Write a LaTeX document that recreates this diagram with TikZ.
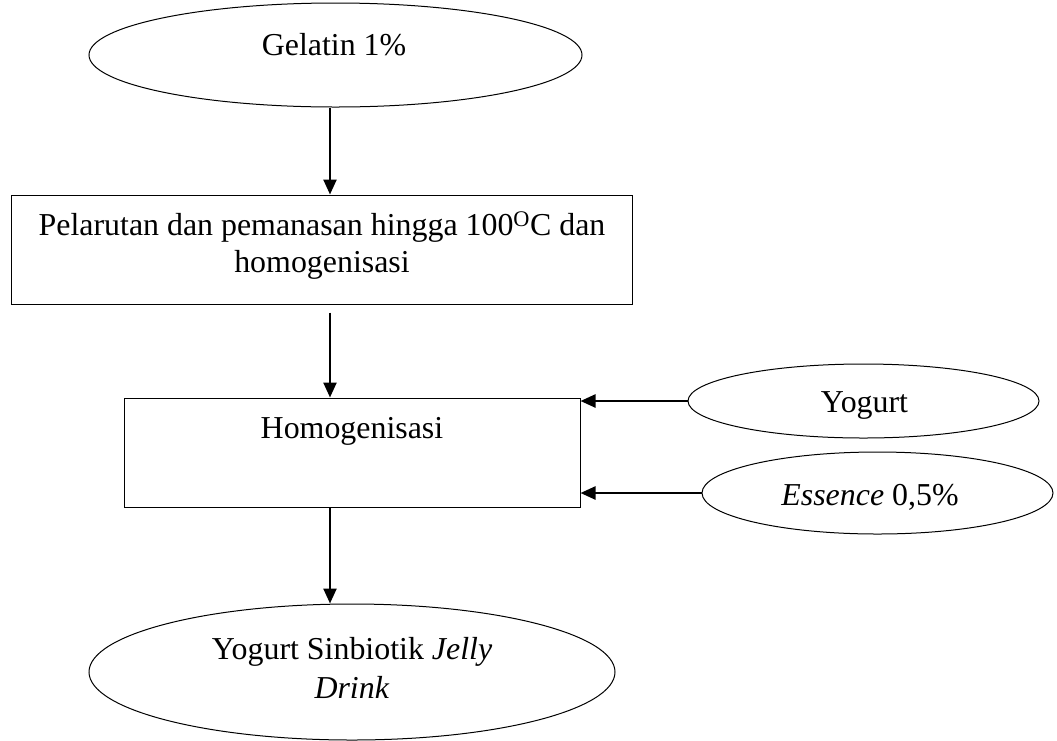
\documentclass[tikz,border=0pt]{standalone}
\usepackage{fontspec}
\setmainfont{Liberation Serif}
\usetikzlibrary{shapes.geometric,arrows.meta}
\tikzset{
  oval/.style={draw, line width=1pt, ellipse, inner sep=0pt},
  box/.style={draw, line width=1pt, rectangle, inner sep=0pt},
  lbl/.style={inner sep=0pt, anchor=base, font=\fontsize{31.9}{36.5}\selectfont, align=center},
  arr/.style={line width=2.4pt, -{Triangle[width=13pt,length=15pt]}}
}
\begin{document}
\begin{tikzpicture}[x=1pt,y=-1pt]
\useasboundingbox (0,0) rectangle (1057,740);
% shapes
\node[oval, minimum width=493pt, minimum height=104pt] (gel) at (335.5,55) {};
\node[box, minimum width=621pt, minimum height=109pt] (p1) at (321.5,249.5) {};
\node[box, minimum width=456pt, minimum height=109pt] (h) at (352,452.5) {};
\node[oval, minimum width=351pt, minimum height=74pt] (yog) at (863.5,401) {};
\node[oval, minimum width=351pt, minimum height=82pt] (ess) at (877.5,493) {};
\node[oval, minimum width=526pt, minimum height=136pt] (fin) at (352,672) {};
% texts (base anchor = baseline of last line)
\node[lbl] (tgel) at (334,55) {Gelatin 1\%};
\node[lbl] (tp1) at (322,272) {Pelarutan dan pemanasan hingga 100\textsuperscript{O}C dan\\homogenisasi};
\node[lbl] (th) at (352,438) {Homogenisasi};
\node[lbl] (tyog) at (864.5,412) {Yogurt};
\node[lbl] (tess) at (870,505) {\textit{Essence} 0,5\%};
\node[lbl, font=\fontsize{31.9}{39}\selectfont] (tfin) at (352,698) {Yogurt Sinbiotik \textit{Jelly}\\\textit{Drink}};
% connectors
\coordinate (ax) at (330,0);
\draw[arr] (ax |- gel.south) -- (ax |- p1.north);
\draw[arr, shorten <=8pt] (ax |- p1.south) -- (ax |- h.north);
\draw[arr] (ax |- h.south) -- (ax |- fin.north);
\draw[arr] (yog.west) -- (yog.west -| h.east);
\draw[arr] (ess.west) -- (ess.west -| h.east);
\end{tikzpicture}
\end{document}
